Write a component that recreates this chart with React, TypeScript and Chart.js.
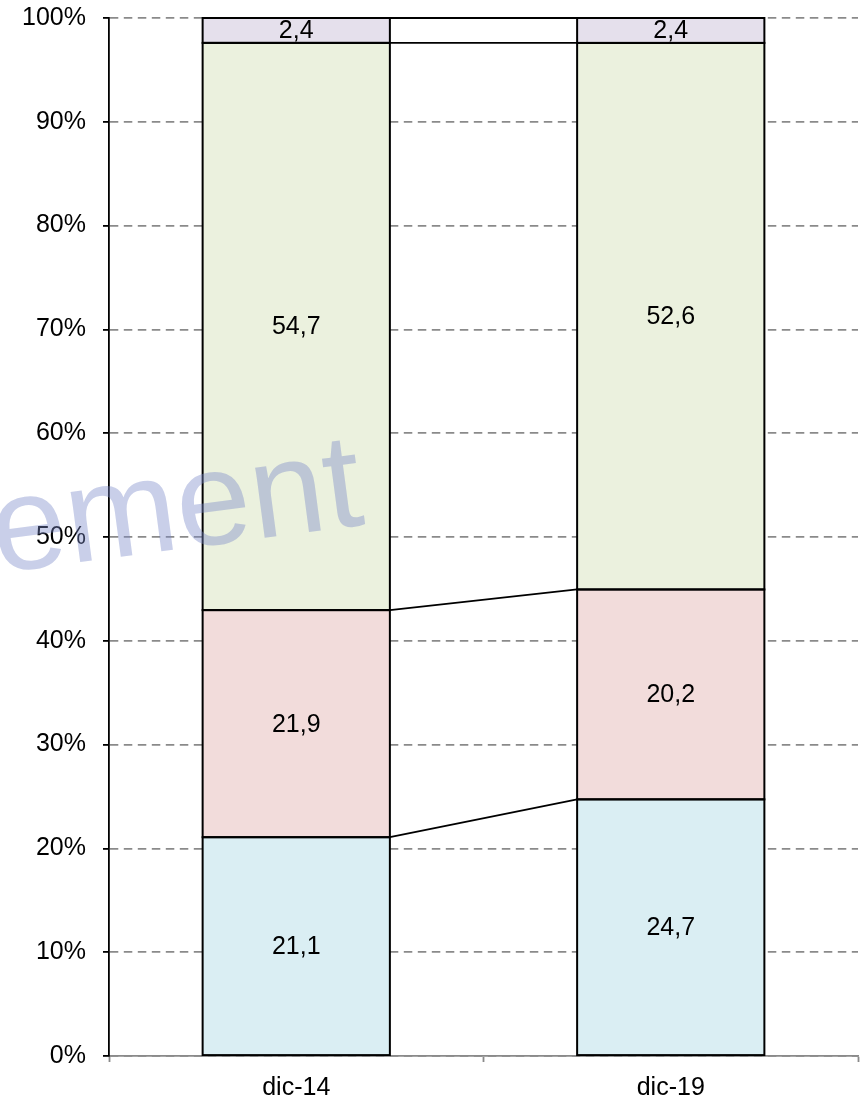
import { useEffect, useRef } from "react";
import { Chart, registerables } from "chart.js";

Chart.register(...registerables);

const categories = ["dic-14", "dic-19"];
const seriesBlue = [21.1, 24.7];
const seriesPink = [21.9, 20.2];
const seriesGreen = [54.7, 52.6];
const seriesPurple = [2.4, 2.4];
const seriesColors = ["#DAEEF3", "#F2DCDB", "#EBF1DE", "#E5E0EC"];
const watermarkText = "ement";

const FONT = "'Liberation Sans', Arial, Helvetica, sans-serif";

const rawSeries = [seriesBlue, seriesPink, seriesGreen, seriesPurple];
const totals = categories.map((_, i) => rawSeries.reduce((s, arr) => s + arr[i], 0));
const pctSeries = rawSeries.map((arr) => arr.map((v, i) => (v / totals[i]) * 100));

const fmt = (v: number) => v.toFixed(1).replace(".", ",");

const stackPlugin = {
  id: "stackDecor",
  afterDatasetsDraw(chart: any) {
    const ctx = chart.ctx;
    const n = chart.data.datasets.length;
    ctx.save();
    // data labels
    ctx.fillStyle = "#000";
    ctx.font = `25px ${FONT}`;
    ctx.textAlign = "center";
    ctx.textBaseline = "middle";
    for (let k = 0; k < n; k++) {
      const meta = chart.getDatasetMeta(k);
      meta.data.forEach((el: any, i: number) => {
        const p = el.getProps(["x", "y", "base", "width"], true);
        ctx.fillText(fmt(rawSeries[k][i]), p.x, (p.y + p.base) / 2 + 1);
      });
    }
    // bar outlines
    ctx.strokeStyle = "#000";
    ctx.lineWidth = 2;
    for (let k = 0; k < n; k++) {
      const meta = chart.getDatasetMeta(k);
      meta.data.forEach((el: any) => {
        const p = el.getProps(["x", "y", "base", "width"], true);
        ctx.strokeRect(p.x - p.width / 2, p.y, p.width, p.base - p.y);
      });
    }
    // series lines
    ctx.lineWidth = 1.8;
    for (let k = 0; k < n; k++) {
      const meta = chart.getDatasetMeta(k);
      for (let i = 0; i < meta.data.length - 1; i++) {
        const a = meta.data[i].getProps(["x", "y", "width"], true);
        const b = meta.data[i + 1].getProps(["x", "y", "width"], true);
        ctx.beginPath();
        ctx.moveTo(a.x + a.width / 2, a.y);
        ctx.lineTo(b.x - b.width / 2, b.y);
        ctx.stroke();
      }
    }
    ctx.restore();
  },
  afterDraw(chart: any) {
    const ctx = chart.ctx;
    ctx.save();
    ctx.translate(-3, 573);
    ctx.rotate((-7.5 * Math.PI) / 180);
    ctx.font = `134px ${FONT}`;
    ctx.fillStyle = "rgba(120,135,200,0.4)";
    ctx.textAlign = "left";
    ctx.textBaseline = "alphabetic";
    ctx.fillText(watermarkText, 0, 0);
    ctx.restore();
  },
};

export default function App() {
  const canvasRef = useRef<HTMLCanvasElement | null>(null);

  useEffect(() => {
    if (!canvasRef.current) return;
    const chart = new Chart(canvasRef.current, {
      type: "bar",
      data: {
        labels: categories,
        datasets: pctSeries.map((data, k) => ({
          label: `s${k}`,
          data,
          backgroundColor: seriesColors[k],
          borderWidth: 0,
          categoryPercentage: 1,
          barPercentage: 0.5,
        })),
      },
      options: {
        responsive: false,
        animation: false,
        events: [],
        layout: { padding: { top: 18, right: 3, left: 0, bottom: 0 } },
        plugins: { legend: { display: false }, tooltip: { enabled: false } },
        scales: {
          x: {
            stacked: true,
            grid: {
              offset: true,
              drawOnChartArea: false,
              drawTicks: true,
              tickLength: 6,
              tickColor: "#8a8a8a",
              tickWidth: 1.8,
            },
            border: { color: "#8a8a8a", width: 1.8 },
            ticks: { color: "#000", font: { size: 25, family: FONT }, padding: 11, maxRotation: 0 },
            afterFit: (s: any) => {
              s.height = 46;
              s.paddingLeft = 0;
              s.paddingRight = 0;
            },
          },
          y: {
            stacked: true,
            min: 0,
            max: 100,
            grid: {
              color: "#8a8a8a",
              lineWidth: 1.8,
              tickColor: "#000",
              tickWidth: 1.8,
              tickLength: 6,
              tickBorderDash: [],
            },
            border: { color: "#000", width: 1.8, dash: [8.5, 5.5] },
            ticks: {
              stepSize: 10,
              color: "#000",
              font: { size: 25, family: FONT },
              padding: 17,
              callback: (v: any) => `${v}%`,
            },
            afterFit: (s: any) => {
              s.width = 109;
              s.paddingTop = 0;
              s.paddingBottom = 0;
            },
          },
        },
      },
      plugins: [stackPlugin],
    });
    return () => chart.destroy();
  }, []);

  return (
    <div style={{ position: "absolute", left: 0, top: 0, width: 861, height: 1102, background: "#fff" }}>
      <canvas ref={canvasRef} width={861} height={1102} style={{ width: 861, height: 1102 }} />
    </div>
  );
}
